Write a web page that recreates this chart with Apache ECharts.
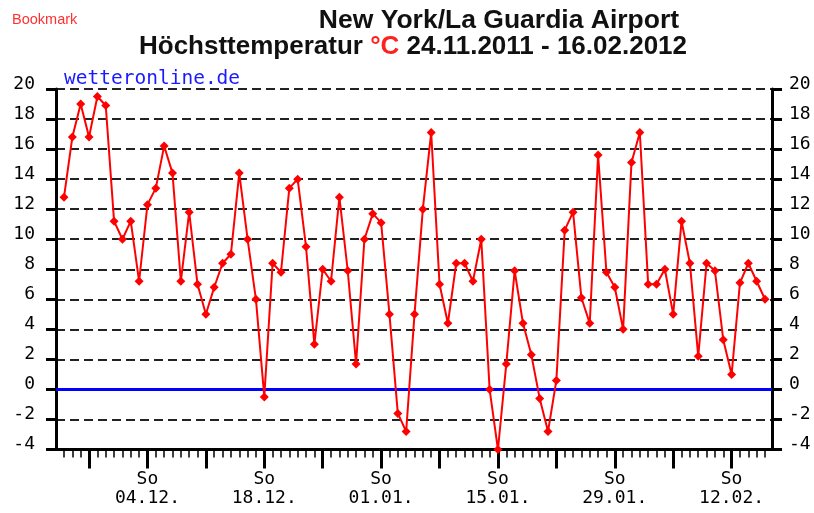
<!DOCTYPE html>
<html><head><meta charset="utf-8">
<script src="https://cdn.jsdelivr.net/npm/echarts@6/dist/echarts.min.js"></script>
<style>html,body{margin:0;padding:0;background:#fff}#c{width:814px;height:513px}</style>
</head><body><div id="c"></div>
<script>
// categories: one per day, 24.11.2011 .. 16.02.2012
const dates = [
 '24.11.','25.11.','26.11.','27.11.','28.11.','29.11.','30.11.',
 '01.12.','02.12.','03.12.','04.12.','05.12.','06.12.','07.12.','08.12.','09.12.','10.12.',
 '11.12.','12.12.','13.12.','14.12.','15.12.','16.12.','17.12.','18.12.','19.12.','20.12.',
 '21.12.','22.12.','23.12.','24.12.','25.12.','26.12.','27.12.','28.12.','29.12.','30.12.','31.12.',
 '01.01.','02.01.','03.01.','04.01.','05.01.','06.01.','07.01.','08.01.','09.01.','10.01.',
 '11.01.','12.01.','13.01.','14.01.','15.01.','16.01.','17.01.','18.01.','19.01.','20.01.',
 '21.01.','22.01.','23.01.','24.01.','25.01.','26.01.','27.01.','28.01.','29.01.','30.01.','31.01.',
 '01.02.','02.02.','03.02.','04.02.','05.02.','06.02.','07.02.','08.02.','09.02.','10.02.',
 '11.02.','12.02.','13.02.','14.02.','15.02.','16.02.'
];
// daily maximum temperature (°C)
const temps = [
 12.8,16.8,19.0,16.8,19.5,18.9,11.2,10.0,11.2,7.2,
 12.3,13.4,16.2,14.4,7.2,11.8,7.0,5.0,6.8,8.4,
 9.0,14.4,10.0,6.0,-0.5,8.4,7.8,13.4,14.0,9.5,
 3.0,8.0,7.2,12.8,7.9,1.7,10.0,11.7,11.1,5.0,
 -1.6,-2.8,5.0,12.0,17.1,7.0,4.4,8.4,8.4,7.2,
 10.0,0.0,-4.0,1.7,7.9,4.4,2.3,-0.6,-2.8,0.6,
 10.6,11.8,6.1,4.4,15.6,7.8,6.8,4.0,15.1,17.1,
 7.0,7.0,8.0,5.0,11.2,8.4,2.2,8.4,7.9,3.3,
 1.0,7.1,8.4,7.2,6.0
];
const sundays = ['27.11.','04.12.','11.12.','18.12.','25.12.','01.01.','08.01.','15.01.','22.01.','29.01.','05.02.','12.02.'];
const labelledSundays = ['04.12.','18.12.','01.01.','15.01.','29.01.','12.02.'];
const weekdayLabel = 'So';
const yMin = -4, yMax = 20, yStep = 2;
const zeroValue = 0;

const MONO = '"DejaVu Sans Mono", monospace';
const chart = echarts.init(document.getElementById('c'), null, {renderer: 'canvas'});
const yLabel = {color: '#000', fontFamily: MONO, fontSize: 18, verticalAlign: 'bottom', lineHeight: 10};
chart.setOption({
  animation: false,
  backgroundColor: '#fff',
  grid: [
    {left: 56, right: 42, top: 89, bottom: 63.5},
    {left: 64, right: 49, top: 89, bottom: 63.5}
  ],
  xAxis: [
    {gridIndex: 0, type: 'value', min: 0, max: 1, position: 'bottom',
     axisLine: {show: true, onZero: false, lineStyle: {color: '#000', width: 3}},
     axisTick: {show: false}, axisLabel: {show: false}, splitLine: {show: false}},
    {gridIndex: 1, type: 'category', data: dates, boundaryGap: false, position: 'bottom', offset: 0,
     axisLine: {show: false, onZero: false},
     axisTick: {show: true, interval: 0, length: 8, lineStyle: {color: '#000', width: 1.5}},
     axisLabel: {show: false}, splitLine: {show: false}},
    {gridIndex: 1, type: 'category', data: dates, boundaryGap: false, position: 'bottom', offset: 0,
     axisLine: {show: false, onZero: false},
     axisTick: {show: true, interval: (i, v) => sundays.includes(v), length: 19, lineStyle: {color: '#000', width: 3}},
     axisLabel: {show: true, interval: (i, v) => labelledSundays.includes(v),
       formatter: v => weekdayLabel + '\n' + v,
       color: '#000', fontFamily: MONO, fontSize: 18, lineHeight: 19, margin: 20},
     splitLine: {show: false}}
  ],
  yAxis: [
    {gridIndex: 0, type: 'value', position: 'left', min: yMin, max: yMax, interval: yStep,
     axisLine: {show: true, onZero: false, lineStyle: {color: '#000', width: 3}},
     axisTick: {show: true, length: 10, lineStyle: {color: '#000', width: 3}},
     axisLabel: Object.assign({margin: 21}, yLabel),
     splitLine: {show: true, lineStyle: {color: '#222', width: 2, type: [9, 5]}}},
    {gridIndex: 0, type: 'value', position: 'right', min: yMin, max: yMax, interval: yStep,
     axisLine: {show: true, onZero: false, lineStyle: {color: '#000', width: 3}},
     axisTick: {show: true, length: 10, lineStyle: {color: '#000', width: 3}},
     axisLabel: Object.assign({margin: 17}, yLabel),
     splitLine: {show: false}},
    {gridIndex: 1, type: 'value', min: yMin, max: yMax, show: false}
  ],
  series: [
    {type: 'line', xAxisIndex: 0, yAxisIndex: 0, data: [[0, zeroValue], [1, zeroValue]],
     symbol: 'none', silent: true, z: 3, lineStyle: {color: '#0000ff', width: 3}},
    {type: 'line', xAxisIndex: 1, yAxisIndex: 2, data: temps, symbol: 'diamond', symbolSize: 9,
     showAllSymbol: true, showSymbol: true,
     z: 5, itemStyle: {color: '#ff0000'}, lineStyle: {color: '#ff0000', width: 2}}
  ],
  graphic: [
    {type: 'text', x: 12, y: 20, style: {text: 'Bookmark', fill: '#ff3030', font: '14.5px "Liberation Sans", Arial',
      verticalAlign: 'middle', textVerticalAlign: 'middle'}},
    {type: 'text', x: 499, y: 20.5, style: {text: 'New York/La Guardia Airport', fill: '#111',
      font: 'bold 26.5px "Liberation Sans", Arial', align: 'center', textAlign: 'center',
      verticalAlign: 'middle', textVerticalAlign: 'middle'}},
    {type: 'text', x: 413, y: 47, style: {
      text: '{a|Höchsttemperatur }{r|°C}{a| 24.11.2011 - 16.02.2012}',
      rich: {a: {font: 'bold 26px "Liberation Sans", Arial', fill: '#111'},
             r: {font: 'bold 26px "Liberation Sans", Arial', fill: '#ff2020'}},
      font: 'bold 26px "Liberation Sans", Arial',
      align: 'center', textAlign: 'center', verticalAlign: 'middle', textVerticalAlign: 'middle'}},
    {type: 'text', x: 64, y: 79, style: {text: 'wetteronline.de', fill: '#1a1aff', font: '19.5px ' + MONO,
      verticalAlign: 'middle', textVerticalAlign: 'middle'}}
  ]
});
</script></body></html>
